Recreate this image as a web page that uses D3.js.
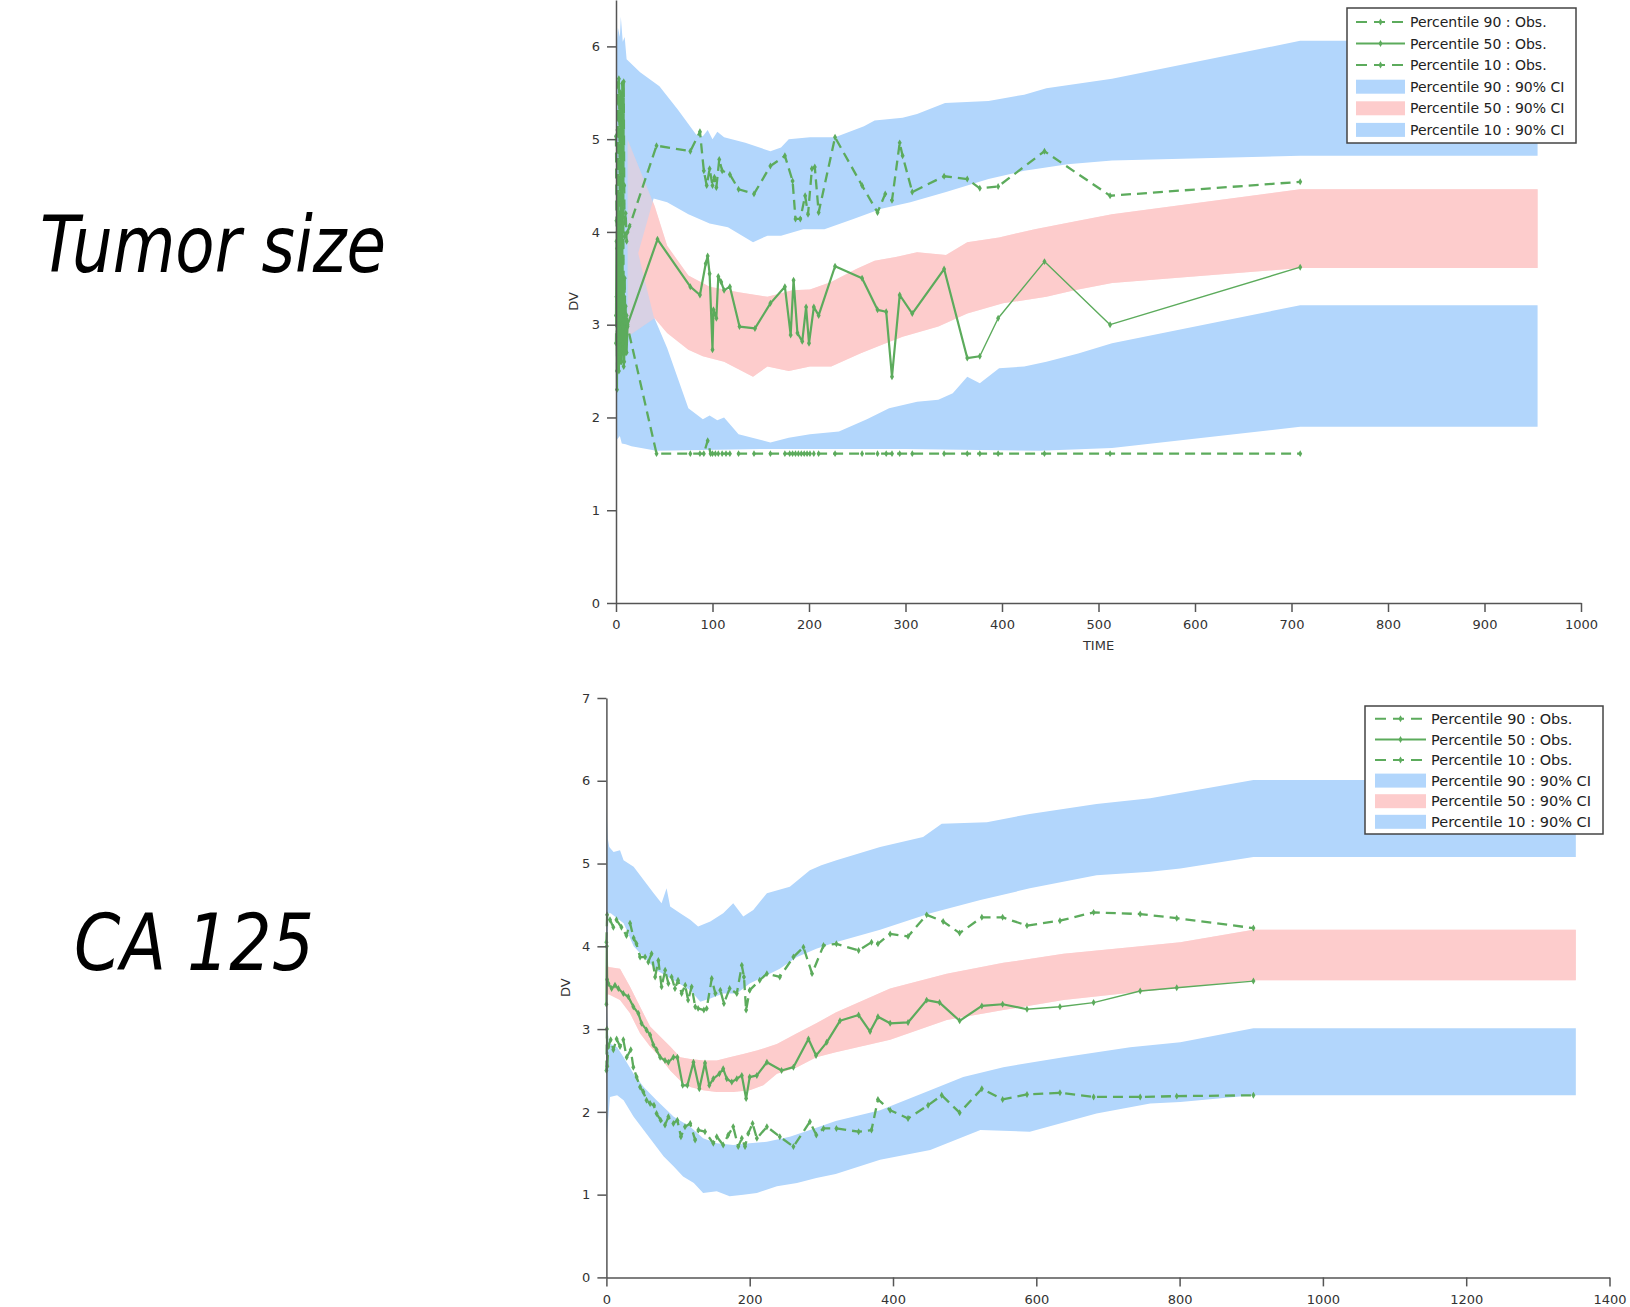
<!DOCTYPE html>
<html>
<meta charset="utf-8">
<head>
<title>VPC - Tumor size and CA 125</title>
<style>
  body { margin: 0; background: #fff; }
  svg text { font-family: "DejaVu Sans", Verdana, Tahoma, sans-serif; }
  .axis path, .axis line { stroke: #555; stroke-width: 1.5; }
  .axis text { font-size: 13px; fill: #333; font-family: "DejaVu Sans", Verdana, sans-serif; }
  .big { font-style: italic; font-size: 78px; fill: #000; font-stretch: condensed; }
</style>
</head>
<body>
<script src="https://d3js.org/d3.v7.min.js"></script>
<script>

// ---------- Tumor size : simulated 90% CI bands [time, DV] ----------
var tumorP90Upper = [[0,5.9],[2,6.2],[4,6.1],[5,6.32],[7,6.05],[9,6.1],[11,5.86],[25,5.72],[45,5.57],[64,5.32],[83,5.05],[90,5.03],[95,5.1],[100,5.0],[105,5.08],[112,5.02],[134,4.96],[160,4.87],[171,4.91],[179,5.0],[201,5.02],[227,5.02],[257,5.14],[268,5.2],[297,5.23],[312,5.27],[341,5.39],[386,5.41],[423,5.48],[446,5.55],[514,5.65],[709,6.06],[955,6.06]];
var tumorP90Lower = [[0,2.9],[12,3.35],[23,3.77],[39,4.36],[53,4.32],[75,4.19],[97,4.09],[116,4.05],[142,3.89],[157,3.96],[171,3.96],[194,4.03],[216,4.03],[246,4.14],[275,4.25],[305,4.32],[342,4.43],[386,4.57],[423,4.66],[468,4.73],[514,4.77],[709,4.82],[955,4.82]];
var tumorP50Upper = [[12,5.0],[40,4.28],[53,3.85],[75,3.53],[97,3.41],[127,3.35],[157,3.3],[183,3.37],[201,3.38],[223,3.46],[249,3.6],[268,3.69],[290,3.73],[312,3.78],[342,3.75],[364,3.89],[397,3.94],[434,4.03],[479,4.12],[514,4.19],[709,4.46],[955,4.46]];
var tumorP50Lower = [[12,2.87],[40,3.07],[53,2.91],[75,2.73],[90,2.66],[112,2.6],[142,2.44],[157,2.55],[179,2.5],[201,2.55],[223,2.55],[253,2.69],[275,2.78],[297,2.87],[334,2.98],[364,3.12],[401,3.23],[446,3.3],[475,3.37],[514,3.45],[709,3.61],[955,3.61]];
var tumorP10Upper = [[0,5.0],[12,4.3],[23,3.77],[39,3.09],[53,2.75],[75,2.1],[90,1.98],[97,2.02],[105,1.97],[112,2.0],[127,1.82],[160,1.73],[179,1.78],[201,1.82],[231,1.85],[260,1.98],[283,2.1],[312,2.17],[334,2.19],[349,2.26],[364,2.44],[377,2.37],[397,2.53],[423,2.55],[446,2.6],[479,2.69],[514,2.8],[709,3.21],[955,3.21]];
var tumorP10Lower = [[0,1.75],[4,1.8],[6,1.72],[10,1.71],[16,1.69],[42,1.64],[150,1.66],[300,1.66],[439,1.64],[514,1.67],[709,1.9],[955,1.9]];

// ---------- Tumor size : observed percentiles [time, DV] ----------
var tumorObsP90 = [[0,5.03],[0.5,4.12],[1,3.82],[1.5,5.1],[2,5.6],[2.5,4.3],[3,5.65],[3.5,5.2],[4,3.9],[4.5,5.5],[5,4.4],[5.5,5.3],[6,3.95],[6.5,5.6],[7,4.6],[7.5,4.1],[8,5.62],[8.5,4.5],[9,3.95],[10,4.2],[11,3.9],[12,4.0],[14,4.06],[42,4.93],[77,4.87],[87,5.08],[91,4.66],[94,4.5],[97,4.68],[100,4.5],[102,4.59],[104,4.48],[107,4.78],[110,4.66],[118,4.62],[127,4.46],[143,4.41],[160,4.71],[175,4.82],[183,4.55],[186,4.14],[191,4.14],[196,4.39],[199,4.19],[203,4.68],[206,4.7],[210,4.21],[227,5.02],[255,4.5],[271,4.21],[279,4.41],[286,4.34],[294,4.96],[297,4.82],[307,4.43],[340,4.6],[364,4.57],[377,4.47],[396,4.49],[444,4.87],[512,4.39],[709,4.54]];
var tumorObsP50 = [[0,3.1],[0.5,3.9],[1,2.3],[1.5,4.4],[2,2.8],[2.5,3.6],[3,2.5],[3.5,4.2],[4,2.9],[4.5,3.2],[5,4.5],[5.5,2.6],[6,3.1],[6.5,4.0],[7,2.7],[7.5,3.5],[8,2.55],[8.5,3.3],[9,2.9],[10,3.2],[11,2.7],[12,3.0],[43,3.92],[77,3.41],[87,3.32],[93,3.66],[95,3.74],[97,3.55],[100,2.73],[101,3.16],[104,3.07],[106,3.52],[109,3.46],[112,3.37],[118,3.41],[128,2.98],[144,2.96],[160,3.23],[175,3.41],[181,2.89],[184,3.48],[188,2.91],[193,2.82],[197,3.19],[200,2.8],[205,3.19],[210,3.1],[227,3.63],[255,3.5],[271,3.16],[280,3.14],[286,2.44],[294,3.32],[307,3.12],[340,3.6],[364,2.64],[377,2.66],[396,3.07],[444,3.68],[512,3.0],[709,3.62]];
var tumorObsP10 = [[0,2.8],[0.5,3.3],[1,2.5],[1.5,4.0],[2,2.9],[2.5,4.4],[3,3.0],[3.5,2.7],[4,4.1],[4.5,3.2],[5,2.6],[5.5,4.6],[6,3.0],[6.5,3.7],[7,2.8],[7.5,4.3],[8,3.1],[8.5,2.6],[9,3.5],[10,2.7],[11,3.1],[12,2.98],[42,1.61],[77,1.61],[87,1.61],[91,1.61],[95,1.75],[98,1.61],[100,1.61],[103,1.61],[106,1.61],[110,1.61],[114,1.61],[118,1.61],[127,1.61],[143,1.61],[160,1.61],[175,1.61],[180,1.61],[183,1.61],[186,1.61],[189,1.61],[192,1.61],[195,1.61],[198,1.61],[201,1.61],[205,1.61],[210,1.61],[227,1.61],[255,1.61],[271,1.61],[280,1.61],[286,1.61],[294,1.61],[307,1.61],[340,1.61],[364,1.61],[377,1.61],[396,1.61],[444,1.61],[512,1.61],[709,1.61]];

// ---------- CA 125 : simulated 90% CI bands ----------
var caP90Upper = [[0,5.7],[2,5.3],[4,5.2],[10,5.14],[19,5.16],[24,5.04],[38,4.96],[52,4.8],[66,4.64],[77,4.52],[84,4.7],[89,4.48],[103,4.4],[117,4.32],[128,4.24],[145,4.3],[163,4.4],[177,4.52],[191,4.36],[205,4.44],[224,4.64],[256,4.72],[284,4.92],[300,4.98],[321,5.04],[382,5.2],[442,5.32],[468,5.48],[531,5.5],[591,5.6],[684,5.72],[759,5.79],[903,6.01],[1353,6.01]];
var caP90Lower = [[0,3.6],[3,4.4],[6,4.4],[24,4.28],[38,4.0],[52,3.87],[70,3.71],[94,3.59],[117,3.47],[131,3.33],[145,3.37],[163,3.43],[182,3.43],[200,3.55],[219,3.63],[242,3.73],[266,3.87],[293,3.97],[320,4.05],[382,4.2],[452,4.4],[522,4.56],[591,4.7],[684,4.86],[759,4.9],[801,4.94],[903,5.08],[1353,5.08]];
var caP50Upper = [[0,3.78],[3,3.75],[19,3.73],[33,3.51],[47,3.27],[61,3.03],[75,2.91],[89,2.79],[103,2.66],[117,2.64],[135,2.62],[154,2.62],[172,2.66],[191,2.7],[210,2.74],[238,2.82],[266,2.95],[293,3.07],[320,3.2],[396,3.49],[475,3.67],[554,3.8],[638,3.91],[731,3.99],[801,4.05],[903,4.2],[1353,4.2]];
var caP50Lower = [[0,3.4],[3,3.42],[19,3.35],[33,3.19],[47,2.95],[61,2.79],[75,2.66],[89,2.5],[103,2.38],[117,2.3],[135,2.26],[154,2.24],[177,2.24],[200,2.26],[219,2.32],[238,2.46],[266,2.54],[293,2.66],[320,2.72],[396,2.87],[475,3.11],[554,3.23],[638,3.35],[731,3.44],[801,3.5],[903,3.59],[1353,3.59]];
var caP10Upper = [[0,3.4],[3,2.85],[6,2.82],[15,2.78],[24,2.66],[38,2.46],[52,2.3],[70,2.14],[94,1.94],[117,1.82],[135,1.68],[154,1.62],[177,1.6],[200,1.62],[224,1.64],[256,1.7],[284,1.78],[320,1.89],[382,2.02],[452,2.26],[498,2.42],[554,2.54],[638,2.66],[731,2.78],[801,2.84],[903,3.01],[1353,3.01]];
var caP10Lower = [[0,1.62],[2,1.86],[5,2.18],[15,2.2],[24,2.14],[38,1.94],[52,1.78],[66,1.62],[80,1.46],[94,1.34],[107,1.22],[122,1.14],[135,1.02],[154,1.04],[172,0.98],[191,1.0],[210,1.02],[238,1.1],[266,1.14],[293,1.2],[320,1.25],[382,1.42],[452,1.54],[522,1.78],[591,1.76],[684,1.98],[759,2.1],[801,2.12],[903,2.2],[1353,2.2]];

// ---------- CA 125 : observed percentiles ----------
var caObsP90 = [[0,4.05],[1,4.38],[5,4.32],[9.7,4.23],[14,4.32],[21,4.23],[28,4.13],[33,4.28],[38,4.1],[42,4.03],[47,3.87],[54,3.87],[58.5,3.81],[63,3.91],[68,3.63],[72.5,3.83],[77,3.51],[82,3.71],[86.5,3.55],[91,3.63],[95.7,3.49],[100,3.59],[105,3.43],[110,3.53],[114,3.35],[119,3.51],[124,3.27],[128,3.25],[136,3.23],[140,3.25],[147,3.61],[152,3.43],[159,3.47],[164,3.31],[172,3.49],[182,3.43],[189,3.77],[192,3.63],[195,3.23],[200,3.47],[214,3.59],[224,3.67],[242,3.63],[261,3.87],[275,3.99],[287,3.67],[303,4.01],[321,4.03],[352,3.95],[370,4.05],[379,4.03],[396,4.15],[421,4.12],[447,4.38],[470,4.3],[493,4.16],[524,4.35],[553,4.35],[587,4.25],[633,4.31],[680,4.41],[745,4.39],[796,4.34],[903,4.22]];
var caObsP50 = [[0,3.3],[0.5,4.0],[1,3.6],[2.7,3.55],[7.3,3.49],[12,3.53],[16.7,3.49],[23.6,3.43],[30.6,3.39],[37.6,3.27],[44.6,3.19],[49,3.07],[56,2.99],[61,2.93],[65.5,2.81],[70,2.75],[75,2.66],[81.8,2.62],[86.5,2.6],[93.5,2.66],[99,2.66],[106.5,2.32],[113,2.32],[121.5,2.6],[129.7,2.28],[137.6,2.59],[143.6,2.32],[149.2,2.4],[157.6,2.46],[163,2.52],[168,2.4],[175,2.36],[182,2.4],[189,2.44],[195,2.16],[200,2.42],[210,2.44],[224,2.6],[244.5,2.5],[261,2.54],[282,2.88],[292.6,2.68],[307.5,2.84],[326,3.1],[352,3.17],[368,2.97],[379,3.15],[396,3.07],[421,3.08],[447,3.35],[465,3.32],[493,3.1],[524,3.28],[553,3.3],[587,3.24],[633,3.27],[680,3.32],[745,3.46],[796,3.5],[903,3.58]];
var caObsP10 = [[0,2.5],[0.7,3.0],[1.3,2.55],[2.7,2.79],[6,2.87],[9.7,2.75],[14.3,2.88],[19,2.79],[23.6,2.87],[28.3,2.66],[34,2.75],[37.6,2.54],[42.2,2.42],[47,2.3],[51.6,2.24],[56,2.14],[61,2.1],[66.4,2.08],[70,1.98],[75.7,1.9],[81.8,1.84],[86.5,1.94],[93.5,1.86],[99,1.9],[104,1.7],[109.7,1.82],[117,1.86],[123.8,1.66],[128.4,1.78],[137.6,1.76],[149.2,1.62],[154,1.7],[163,1.6],[170,1.72],[177,1.82],[184,1.58],[189,1.68],[193.5,1.58],[198,1.74],[204,1.86],[210,1.68],[224,1.82],[242,1.7],[261,1.58],[284,1.88],[293,1.72],[303,1.8],[321,1.8],[352,1.76],[370,1.78],[379,2.15],[396,2.02],[421,1.92],[449,2.08],[468,2.2],[493,1.99],[524,2.28],[553,2.15],[587,2.21],[633,2.23],[680,2.18],[745,2.18],[796,2.19],[903,2.2]];

var legendLabels = ["Percentile 90 : Obs.", "Percentile 50 : Obs.", "Percentile 10 : Obs.",
                    "Percentile 90 : 90% CI", "Percentile 50 : 90% CI", "Percentile 10 : 90% CI"];

var blue = "#b2d6fc", pink = "#fdcccc", green = "#5cab5c";

var svg = d3.select("body").append("svg")
  .attr("width", 1630)
  .attr("height", 1307);

svg.append("rect").attr("width", 1630).attr("height", 1307).attr("fill", "#fff");

// panel labels
svg.append("text").attr("class", "big")
  .attr("x", 40).attr("y", 272)
  .attr("textLength", 346).attr("lengthAdjust", "spacingAndGlyphs")
  .text("Tumor size");
svg.append("text").attr("class", "big")
  .attr("x", 74).attr("y", 970)
  .attr("textLength", 240).attr("lengthAdjust", "spacingAndGlyphs")
  .text("CA 125");

function drawPanel(p) {
  var x = d3.scaleLinear().domain([0, p.xMax]).range([p.left, p.right]);
  var y = d3.scaleLinear().domain([0, p.yMax]).range([p.bottom, p.top]);
  var g = svg.append("g");

  var line = d3.line().x(function(d) { return x(d[0]); }).y(function(d) { return y(d[1]); });

  // CI bands: pink, then blue, then pink again at half opacity so overlaps blend
  function band(b, fill, op) {
    g.append("path")
      .attr("d", line(b[0].concat(b[1].slice().reverse())) + "Z")
      .attr("fill", fill)
      .attr("fill-opacity", op);
  }
  band(p.bands[1], pink, 1);
  band(p.bands[0], blue, 1);
  band(p.bands[2], blue, 1);
  band(p.bands[1], pink, 0.5);

  // observed lines (median line gets thinner after p.thinFrom)
  var marker = d3.symbol().type(d3.symbolDiamond).size(14);
  p.obs.forEach(function(s, i) {
    var parts = [s];
    if (i == 1) {
      var k = s.findIndex(function(d) { return d[0] >= p.thinFrom; });
      parts = [s.slice(0, k + 1), s.slice(k)];
    }
    parts.forEach(function(part, j) {
      g.append("path")
        .attr("d", line(part))
        .attr("fill", "none")
        .attr("stroke", green)
        .attr("stroke-linejoin", "round")
        .attr("stroke-width", i == 1 ? (j == 0 ? 2.2 : 1.4) : 2.3)
        .attr("stroke-dasharray", i == 1 ? null : "10,6");
    });
    g.selectAll(".m" + i)
      .data(s)
      .enter().append("path")
      .attr("transform", function(d) { return "translate(" + x(d[0]) + "," + y(d[1]) + ")"; })
      .attr("d", marker)
      .attr("fill", green);
  });

  // axes
  g.append("g")
    .attr("class", "axis")
    .attr("transform", "translate(0," + p.bottom + ")")
    .call(d3.axisBottom(x).tickValues(d3.range(0, p.xMax + 1, p.xStep)).tickSize(9).tickSizeOuter(0).tickPadding(8).tickFormat(d3.format("d")));
  g.append("g")
    .attr("class", "axis")
    .attr("transform", "translate(" + p.left + ",0)")
    .call(d3.axisLeft(y).tickValues(d3.range(0, Math.floor(p.yMax) + 1)).tickSize(9).tickSizeOuter(0).tickPadding(7).tickFormat(d3.format("d")));

  g.append("text")
    .attr("transform", "translate(" + p.dvX + "," + (p.bottom + p.top) / 2 + ") rotate(-90)")
    .attr("text-anchor", "middle")
    .style("font-size", "13px").attr("fill", "#333")
    .text("DV");
  if (p.timeY) {
    g.append("text")
      .attr("x", (p.left + p.right) / 2).attr("y", p.timeY)
      .attr("text-anchor", "middle")
      .style("font-size", "13px").attr("fill", "#333")
      .text("TIME");
  }

  // legend
  var L = p.legend;
  var lg = g.append("g");
  lg.append("rect")
    .attr("x", L.x).attr("y", L.y).attr("width", L.w).attr("height", L.h)
    .attr("fill", "#fff").attr("stroke", "#444").attr("stroke-width", 1.5);
  var item = lg.selectAll(".legend")
    .data(legendLabels)
    .enter().append("g")
    .attr("class", "legend")
    .attr("transform", function(d, i) { return "translate(0," + (L.y0 + i * L.row) + ")"; });
  item.each(function(d, i) {
    var it = d3.select(this);
    if (i < 3) {
      it.append("line")
        .attr("x1", L.sx).attr("x2", L.sx + L.sw).attr("y1", 0).attr("y2", 0)
        .attr("stroke", green).attr("stroke-width", 2)
        .attr("stroke-dasharray", i == 1 ? null : "11,7");
      it.append("path")
        .attr("transform", "translate(" + (L.sx + L.sw / 2) + ",0)")
        .attr("d", marker).attr("fill", green);
    } else {
      it.append("rect")
        .attr("x", L.sx).attr("y", -7).attr("width", L.sw).attr("height", 14)
        .attr("fill", i == 4 ? pink : blue);
    }
  });
  item.append("text")
    .attr("x", L.sx + L.sw + 5)
    .attr("dy", "0.36em")
    .style("font-size", L.fs + "px")
    .attr("fill", "#222")
    .text(function(d) { return d; });
}

drawPanel({
  xMax: 1000, xStep: 100, yMax: 6.5,
  left: 616, right: 1581, top: 0, bottom: 603,
  dvX: 578, timeY: 650, thinFrom: 377,
  bands: [[tumorP90Upper, tumorP90Lower], [tumorP50Upper, tumorP50Lower], [tumorP10Upper, tumorP10Lower]],
  obs: [tumorObsP90, tumorObsP50, tumorObsP10],
  legend: {x: 1347, y: 8, w: 229, h: 135, y0: 21.9, row: 21.6, sx: 1356, sw: 49, fs: 14}
});

drawPanel({
  xMax: 1400, xStep: 200, yMax: 7,
  left: 606.4, right: 1609.5, top: 698, bottom: 1277.4,
  dvX: 569.5, timeY: null, thinFrom: 587,
  bands: [[caP90Upper, caP90Lower], [caP50Upper, caP50Lower], [caP10Upper, caP10Lower]],
  obs: [caObsP90, caObsP50, caObsP10],
  legend: {x: 1365, y: 706, w: 238, h: 128, y0: 718.8, row: 20.6, sx: 1375, sw: 51, fs: 14.5}
});

</script>
</body>
</html>
